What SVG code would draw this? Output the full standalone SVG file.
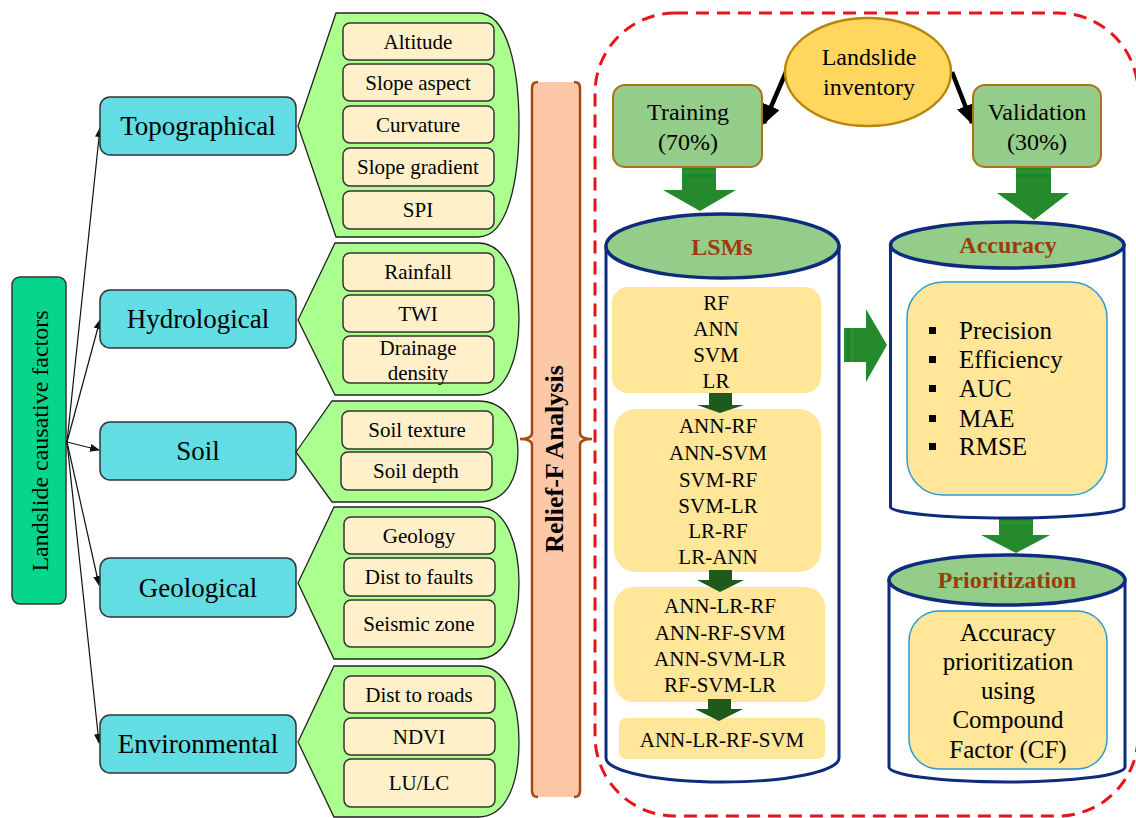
<svg xmlns="http://www.w3.org/2000/svg" width="1136" height="818" viewBox="0 0 1136 818" font-family="'Liberation Serif', 'Times New Roman', serif">
<style>
text{font-family:'Liberation Serif','Times New Roman',serif;fill:#000;text-anchor:middle}
.cat{fill:#62DDE3;stroke:#333;stroke-width:1.5}
.cat-t{font-family:'Liberation Serif','Times New Roman',serif;font-size:27px}
.brace{fill:#ABFF8E;stroke:#222;stroke-width:1.3}
.item{fill:#FFF0CA;stroke:#333;stroke-width:1.5}
.item-t{font-family:'Liberation Serif','Times New Roman',serif;font-size:21px}
.cyl{fill:#fff;stroke:#0E2B7E;stroke-width:3}
.cyltop{fill:#93CD89;stroke:#0E2B7E;stroke-width:3.5}
.cyl-t{font-family:'Liberation Serif','Times New Roman',serif;font-size:24px;font-weight:bold;fill:#9C3B0C}
.ybox{fill:#FFE699}
.ybox2{fill:#FFE699;stroke:#2E9BD6;stroke-width:1.5}
.m-t{font-family:'Liberation Serif','Times New Roman',serif;font-size:21px}
.r-t{font-family:'Liberation Serif','Times New Roman',serif;font-size:25px}
.split{fill:#93CD89;stroke:#A8751A;stroke-width:2}
.big-t{font-family:'Liberation Serif','Times New Roman',serif;font-size:24px}
.garrow{fill:#248A2C}
.darrow{fill:#1F5A1A}
.conn{stroke:#111;stroke-width:1.2;fill:none}
.brc{fill:none;stroke:#A5490F;stroke-width:2.5}
</style>
<defs>
<marker id="ah" markerUnits="userSpaceOnUse" markerWidth="10" markerHeight="8" refX="9" refY="4" orient="auto">
<path d="M0,0 L10,4 L0,8 Z" fill="#111"/>
</marker>
<marker id="bh" markerUnits="userSpaceOnUse" markerWidth="20" markerHeight="18" refX="18" refY="9" orient="auto">
<path d="M0,0 L20,9 L0,18 Z" fill="#000"/>
</marker>
</defs>

<!-- dashed frame -->
<rect x="595" y="13" width="543" height="803" rx="80" ry="80" fill="none" stroke="#E8141C" stroke-width="3" stroke-dasharray="13 8"/>

<!-- Left root -->
<g id="node-root">
<rect x="12" y="277" width="54" height="327" rx="8" fill="#05D68C" stroke="#333" stroke-width="1.5"/>
<text transform="translate(48,441) rotate(-90)" x="0" y="0" style="font-size:24px">Landslide causative factors</text>
</g>

<g id="connectors">
<line class="conn" x1="67" y1="442" x2="100" y2="128" marker-end="url(#ah)"/>
<line class="conn" x1="67" y1="442" x2="100" y2="320" marker-end="url(#ah)"/>
<line class="conn" x1="67" y1="442" x2="99" y2="450" marker-end="url(#ah)"/>
<line class="conn" x1="67" y1="442" x2="99" y2="585" marker-end="url(#ah)"/>
<line class="conn" x1="67" y1="442" x2="99" y2="743" marker-end="url(#ah)"/>
<line x1="786" y1="72" x2="764" y2="123" stroke="#000" stroke-width="4.5" marker-end="url(#bh)"/>
<line x1="952" y1="72" x2="972" y2="123" stroke="#000" stroke-width="4.5" marker-end="url(#bh)"/>
<!-- training -> LSMs -->
<path class="garrow" d="M682,167 L716,167 L716,190 L736,190 L700,211 L663,190 L682,190 Z"/>
<line x1="682" y1="172" x2="716" y2="172" stroke="#3B9A3E" stroke-width="1"/>
<line x1="682" y1="176" x2="716" y2="176" stroke="#1C7A24" stroke-width="1"/>
<!-- validation -> accuracy -->
<path class="garrow" d="M1016,167 L1051,167 L1051,193 L1069,193 L1034,220 L997,193 L1016,193 Z"/>
<line x1="1016" y1="172" x2="1051" y2="172" stroke="#3B9A3E" stroke-width="1"/>
<line x1="1016" y1="176" x2="1051" y2="176" stroke="#1C7A24" stroke-width="1"/>
<!-- LSMs -> accuracy -->
<path class="garrow" d="M844,328 L866,328 L866,309 L887,345 L866,382 L866,362 L844,362 Z"/>
<line x1="848" y1="328" x2="848" y2="362" stroke="#1C7A24" stroke-width="1"/>
<line x1="852" y1="328" x2="852" y2="362" stroke="#3B9A3E" stroke-width="1"/>
<!-- accuracy -> prioritization -->
<path class="garrow" d="M999,518 L1033,518 L1033,535 L1050,535 L1016,553 L981,535 L999,535 Z"/>
<line x1="999" y1="523" x2="1033" y2="523" stroke="#3B9A3E" stroke-width="1"/>
</g>

<!-- Categories -->
<g id="node-topographical">
<rect class="cat" x="100" y="97" width="196" height="58" rx="10"/>
<text class="cat-t" x="198" y="135">Topographical</text>
</g>
<g id="node-hydrological">
<rect class="cat" x="100" y="290" width="196" height="58" rx="10"/>
<text class="cat-t" x="198" y="328">Hydrological</text>
</g>
<g id="node-soil">
<rect class="cat" x="100" y="422" width="196" height="58" rx="10"/>
<text class="cat-t" x="198" y="460">Soil</text>
</g>
<g id="node-geological">
<rect class="cat" x="100" y="558" width="196" height="59" rx="10"/>
<text class="cat-t" x="198" y="597">Geological</text>
</g>
<g id="node-environmental">
<rect class="cat" x="100" y="715" width="196" height="58" rx="10"/>
<text class="cat-t" x="198" y="753">Environmental</text>
</g>

<!-- factor groups -->
<g id="group-topographical">
<path class="brace" d="M298,126 L336,13 L478,13 C508,13 519,70 519,125 C519,180 508,237 478,237 L336,237 Z"/>
<rect class="item" x="343" y="23" width="151" height="37" rx="7"/><text class="item-t" x="418" y="49">Altitude</text>
<rect class="item" x="343" y="64" width="151" height="37" rx="7"/><text class="item-t" x="418" y="90">Slope aspect</text>
<rect class="item" x="343" y="106" width="151" height="37" rx="7"/><text class="item-t" x="418" y="132">Curvature</text>
<rect class="item" x="343" y="148" width="151" height="38" rx="7"/><text class="item-t" x="418" y="174">Slope gradient</text>
<rect class="item" x="343" y="191" width="151" height="38" rx="7"/><text class="item-t" x="418" y="217">SPI</text>
</g>
<g id="group-hydrological">
<path class="brace" d="M298,320 L335,243 L478,243 C508,243 519,285 519,319 C519,355 508,395 478,395 L335,395 Z"/>
<rect class="item" x="343" y="253" width="151" height="38" rx="7"/><text class="item-t" x="418" y="279">Rainfall</text>
<rect class="item" x="343" y="295" width="151" height="37" rx="7"/><text class="item-t" x="418" y="321">TWI</text>
<rect class="item" x="343" y="336" width="151" height="47" rx="7"/><text class="item-t" x="418" y="355">Drainage</text><text class="item-t" x="418" y="380">density</text>
</g>
<g id="group-soil">
<path class="brace" d="M296,452 L332,401 L478,401 C508,401 518,428 518,451 C518,476 508,502 478,502 L332,502 Z"/>
<rect class="item" x="342" y="411" width="151" height="38" rx="7"/><text class="item-t" x="417" y="437">Soil texture</text>
<rect class="item" x="341" y="452" width="151" height="38" rx="7"/><text class="item-t" x="416" y="478">Soil depth</text>
</g>
<g id="group-geological">
<path class="brace" d="M298,583 L334,507 L478,507 C508,507 519,548 519,583 C519,620 508,659 478,659 L334,659 Z"/>
<rect class="item" x="344" y="517" width="151" height="37" rx="7"/><text class="item-t" x="419" y="543">Geology</text>
<rect class="item" x="344" y="558" width="151" height="38" rx="7"/><text class="item-t" x="419" y="584">Dist to faults</text>
<rect class="item" x="344" y="600" width="151" height="47" rx="7"/><text class="item-t" x="419" y="631">Seismic  zone</text>
</g>
<g id="group-environmental">
<path class="brace" d="M298,742 L334,666 L478,666 C508,666 519,705 519,742 C519,780 508,817 478,817 L334,817 Z"/>
<rect class="item" x="344" y="676" width="151" height="37" rx="7"/><text class="item-t" x="419" y="702">Dist to roads</text>
<rect class="item" x="344" y="718" width="151" height="37" rx="7"/><text class="item-t" x="419" y="744">NDVI</text>
<rect class="item" x="344" y="759" width="151" height="48" rx="7"/><text class="item-t" x="419" y="790">LU/LC</text>
</g>

<!-- Relief-F bar -->
<g id="node-relieff">
<rect x="532" y="82" width="48" height="715" fill="#FCC8A8"/>
<path class="brc" d="M538,82 Q532,82 532,88 L532,433 Q532,439 520,439 Q532,439 532,445 L532,791 Q532,797 538,797"/>
<path class="brc" d="M574,82 Q580,82 580,88 L580,433 Q580,439 592,439 Q580,439 580,445 L580,791 Q580,797 574,797"/>
<text transform="translate(563,459) rotate(-90)" x="0" y="0" style="font-size:26px;font-weight:bold">Relief-F Analysis</text>
</g>

<!-- inventory -->
<g id="node-inventory">
<ellipse cx="868" cy="72" rx="83" ry="54" fill="#FFD75E" stroke="#B8860B" stroke-width="2.5"/>
<text class="big-t" x="869" y="65">Landslide</text>
<text class="big-t" x="869" y="95">inventory</text>
</g>
<g id="node-training">
<rect class="split" x="613" y="85" width="149" height="82" rx="12"/>
<text class="big-t" x="688" y="120">Training</text>
<text class="big-t" x="688" y="150">(70%)</text>
</g>
<g id="node-validation">
<rect class="split" x="973" y="85" width="128" height="82" rx="12"/>
<text class="big-t" x="1037" y="120">Validation</text>
<text class="big-t" x="1037" y="150">(30%)</text>
</g>

<!-- LSMs cylinder -->
<g id="node-lsms">
<path class="cyl" d="M606,246 L606,758 A116.5,24 0 0 0 839,758 L839,246 Z"/>
<ellipse class="cyltop" cx="722.5" cy="246" rx="116.5" ry="32"/>
<text class="cyl-t" x="722" y="255">LSMs</text>
<rect class="ybox" x="612" y="287" width="209" height="106" rx="16"/>
<text class="m-t" x="716"><tspan x="716" y="310">RF</tspan><tspan x="716" y="336">ANN</tspan><tspan x="716" y="362">SVM</tspan><tspan x="716" y="388">LR</tspan></text>
<rect class="ybox" x="614" y="409" width="207" height="163" rx="22"/>
<text class="m-t"><tspan x="718" y="433">ANN-RF</tspan><tspan x="718" y="460">ANN-SVM</tspan><tspan x="718" y="487">SVM-RF</tspan><tspan x="718" y="513">SVM-LR</tspan><tspan x="718" y="538">LR-RF</tspan><tspan x="718" y="564">LR-ANN</tspan></text>
<rect class="ybox" x="614" y="587" width="211" height="115" rx="20"/>
<text class="m-t"><tspan x="720" y="613">ANN-LR-RF</tspan><tspan x="720" y="640">ANN-RF-SVM</tspan><tspan x="720" y="666">ANN-SVM-LR</tspan><tspan x="720" y="692">RF-SVM-LR</tspan></text>
<rect class="ybox" x="619" y="718" width="206" height="41" rx="7"/>
<text class="m-t" x="722" y="747">ANN-LR-RF-SVM</text>
<path class="darrow" d="M709,393 L732,393 L732,405 L744,405 L720,413 L697,405 L709,405 Z"/>
<path class="darrow" d="M709,570 L732,570 L732,580 L744,580 L720,592 L697,580 L709,580 Z"/>
<path class="darrow" d="M708,699 L731,699 L731,709 L743,709 L719,721 L695,709 L708,709 Z"/>
</g>

<!-- Accuracy cylinder -->
<g id="node-accuracy">
<path class="cyl" d="M890.5,245 L890.5,507 A116.75,11 0 0 0 1124,507 L1124,245 Z"/>
<ellipse class="cyltop" cx="1007.25" cy="245" rx="116.75" ry="23"/>
<text class="cyl-t" x="1008" y="253">Accuracy</text>
<rect class="ybox2" x="907" y="282" width="200" height="213" rx="36"/>
<rect x="929" y="327" width="7" height="7" fill="#000"/><text class="r-t" x="959" y="339" style="text-anchor:start">Precision</text>
<rect x="929" y="356" width="7" height="7" fill="#000"/><text class="r-t" x="959" y="368" style="text-anchor:start">Efficiency</text>
<rect x="929" y="385" width="7" height="7" fill="#000"/><text class="r-t" x="959" y="397" style="text-anchor:start">AUC</text>
<rect x="929" y="415" width="7" height="7" fill="#000"/><text class="r-t" x="959" y="427" style="text-anchor:start">MAE</text>
<rect x="929" y="443" width="7" height="7" fill="#000"/><text class="r-t" x="959" y="455" style="text-anchor:start">RMSE</text>
</g>

<!-- Prioritization cylinder -->
<g id="node-prioritization">
<path class="cyl" d="M889,580 L889,767 A118,15 0 0 0 1125,767 L1125,580 Z"/>
<ellipse class="cyltop" cx="1007" cy="580" rx="118" ry="25"/>
<text class="cyl-t" x="1007" y="588">Prioritization</text>
<rect class="ybox2" x="909" y="611" width="198" height="158" rx="30"/>
<text class="r-t"><tspan x="1008" y="641">Accuracy</tspan><tspan x="1008" y="670">prioritization</tspan><tspan x="1008" y="699">using</tspan><tspan x="1008" y="728">Compound</tspan><tspan x="1008" y="758">Factor (CF)</tspan></text>
</g>
</svg>
